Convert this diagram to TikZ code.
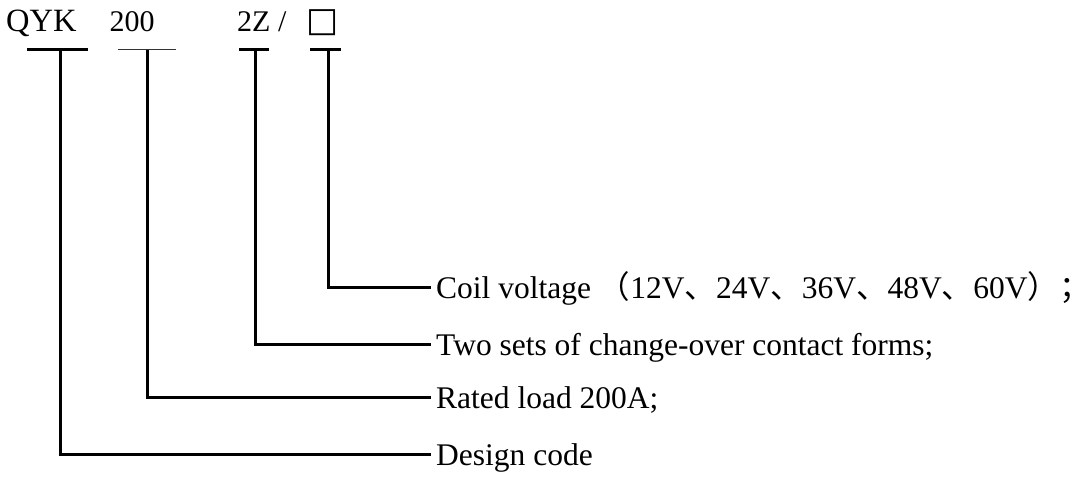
\documentclass[tikz,border=0pt]{standalone}
\usepackage{fontspec}
\setmainfont{Liberation Serif}
\newfontfamily\zhfont{Noto Sans CJK SC}
\newfontfamily\symfont{DejaVu Sans}
\newcommand{\zh}[1]{{\zhfont #1}}
\begin{document}
\begin{tikzpicture}[x=1pt,y=-1pt,
  code/.style={anchor=base west, inner sep=0pt, font=\fontsize{30}{36}\selectfont},
  lbl/.style={anchor=west, inner xsep=5pt, inner ysep=0pt, text height=22pt, text depth=0pt,
              font=\fontsize{31.5}{38}\selectfont},
  bar/.style={line width=3pt},
  thinbar/.style={line width=1.3pt, black!80},
  conn/.style={line width=3pt, line join=miter}]
\useasboundingbox (0,0) rectangle (1077,477);
% code texts
\node[code, font=\fontsize{32.5}{38}\selectfont] (qyk) at (6,31) {QYK};
\node[code] (n200) at (109.5,31) {200};
\node[code] (n2z) at (237,31) {2Z /};
\node[code, font=\symfont\fontsize{34}{40}\selectfont] (box) at (306,31) {□};
% underline bars
\coordinate (a1) at (27,49.5);  \coordinate (a2) at (88,49.5);  \coordinate (am) at (60,49.5);
\coordinate (b1) at (118,49.5); \coordinate (b2) at (176,49.5); \coordinate (bm) at (147,49.5);
\coordinate (c1) at (239,49.5); \coordinate (c2) at (269,49.5); \coordinate (cm) at (255,49.5);
\coordinate (d1) at (310,49.5); \coordinate (d2) at (341,49.5); \coordinate (dm) at (328,49.5);
\draw[bar] (a1) -- (a2);
\draw[thinbar] (b1) -- (b2);
\draw[bar] (c1) -- (c2);
\draw[bar] (d1) -- (d2);
% labels
\node[lbl] (coil) at (431,287) {Coil voltage \zh{（}12V\zh{、}24V\zh{、}36V\zh{、}48V\zh{、}60V\zh{）}\rlap{\zh{；}}};
\node[lbl] (two) at (431,344) {Two sets of change-over contact forms;};
\node[lbl] (rated) at (431,397) {Rated load 200A;};
\node[lbl] (design) at (431,454) {Design code};
% connectors
\draw[conn] (dm) |- (coil.west);
\draw[conn] (cm) |- (two.west);
\draw[conn] (bm) |- (rated.west);
\draw[conn] (am) |- (design.west);
\end{tikzpicture}
\end{document}
